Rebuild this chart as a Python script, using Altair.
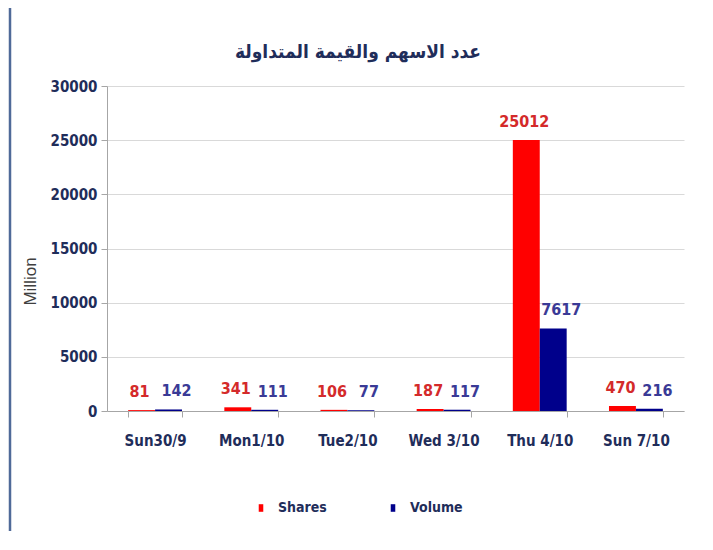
import altair as alt
import pandas as pd

days = ["Sun30/9", "Mon1/10", "Tue2/10", "Wed 3/10", "Thu 4/10", "Sun 7/10"]
shares = [81, 341, 106, 187, 25012, 470]
volume = [142, 111, 77, 117, 7617, 216]
series = ["Shares", "Volume"]
bar_colors = ["#FF0000", "#00008B"]
label_colors = ["#D42A2A", "#3A3A96"]
y_ticks = [0, 5000, 10000, 15000, 20000, 25000, 30000]
title_text = ["عدد الاسهم والقيمة المتداولة"]

rows = []
for d, s, v in zip(days, shares, volume):
    rows.append({"day": d, "series": "Shares", "value": s})
    rows.append({"day": d, "series": "Volume", "value": v})
df = pd.DataFrame(rows)

FONT = "'DejaVu Sans Condensed', 'Roboto Condensed', 'Liberation Sans Narrow', 'Open Sans', sans-serif"
NAVY = "#1F2D5A"

x_enc = alt.X("day:N", sort=days, title=None,
              scale=alt.Scale(paddingInner=0.44, paddingOuter=0.22),
              axis=alt.Axis(labelAngle=0, labelFont=FONT, labelFontSize=15,
                            labelFontWeight="bold", labelColor=NAVY,
                            labelPadding=16, tickBand="extent", tickSize=6,
                            tickColor="#A6A6A6", domainColor="#A6A6A6"))
xo_enc = alt.XOffset("series:N", sort=series, scale=alt.Scale(paddingInner=0, paddingOuter=0))
y_enc = alt.Y("value:Q",
              scale=alt.Scale(domain=[0, 30000], nice=False),
              axis=alt.Axis(values=y_ticks, format="d", title="Million", titleFont="Liberation Sans",
                            titleFontSize=17, titleFontWeight="normal", titleColor="#404040",
                            titleAngle=270, titleX=-77, titleY=195, titleAlign="center",
                            titleBaseline="middle",
                            labelFont=FONT, labelFontSize=15, labelFontWeight="bold",
                            labelColor=NAVY, labelPadding=4, tickSize=6,
                            tickColor="#A6A6A6", domainColor="#A6A6A6",
                            gridColor="#D9D9D9", grid=True))

bars = alt.Chart(df).mark_bar().encode(
    x=x_enc, xOffset=xo_enc, y=y_enc,
    color=alt.Color("series:N", sort=series,
                    scale=alt.Scale(domain=series, range=bar_colors),
                    legend=alt.Legend(title=None, orient="none", direction="horizontal",
                                      legendX=146, legendY=414, columnPadding=58,
                                      symbolType="M-0.3,-0.5H0.3V0.5H-0.3Z", symbolSize=230,
                                      symbolStrokeWidth=0,
                                      labelFont=FONT, labelFontSize=14, labelFontWeight="bold",
                                      labelColor=NAVY, labelOffset=9)),
)


def label_layer(name, dx):
    return alt.Chart(df).transform_filter(alt.datum.series == name).mark_text(
        baseline="bottom", dy=-10, dx=dx, font=FONT, fontSize=16, fontWeight="bold"
    ).encode(
        x=alt.X("day:N", sort=days), xOffset=alt.XOffset("series:N", sort=series),
        y="value:Q",
        text=alt.Text("value:Q", format="d"),
        color=alt.Color("series:N", sort=series,
                        scale=alt.Scale(domain=series, range=label_colors), legend=None),
    )


labels_s = label_layer("Shares", -2)
labels_v = label_layer("Volume", 8)

title_df = pd.DataFrame({"t": title_text})
title = alt.Chart(title_df).mark_text(font=FONT, fontSize=19, fontWeight="bold",
                                      color=NAVY, align="center", baseline="middle").encode(
    text="t:N", x=alt.value(251), y=alt.value(-34))

frame = alt.Chart(title_df).mark_rect(fill=None, stroke="#4F6A98", strokeWidth=2.5).encode(
    x=alt.value(-97), x2=alt.value(640), y=alt.value(-80), y2=alt.value(480))

chart = alt.layer(bars, labels_s, labels_v, title, frame).resolve_scale(
    color="independent"
).properties(
    width=577, height=325,
    autosize=alt.AutoSizeParams(type="none"),
    padding={"left": 99, "top": 78, "right": 20, "bottom": 120},
    background="white",
).configure_view(stroke=None)

chart.save("out.html", embed_options={"renderer": "svg", "actions": False})
